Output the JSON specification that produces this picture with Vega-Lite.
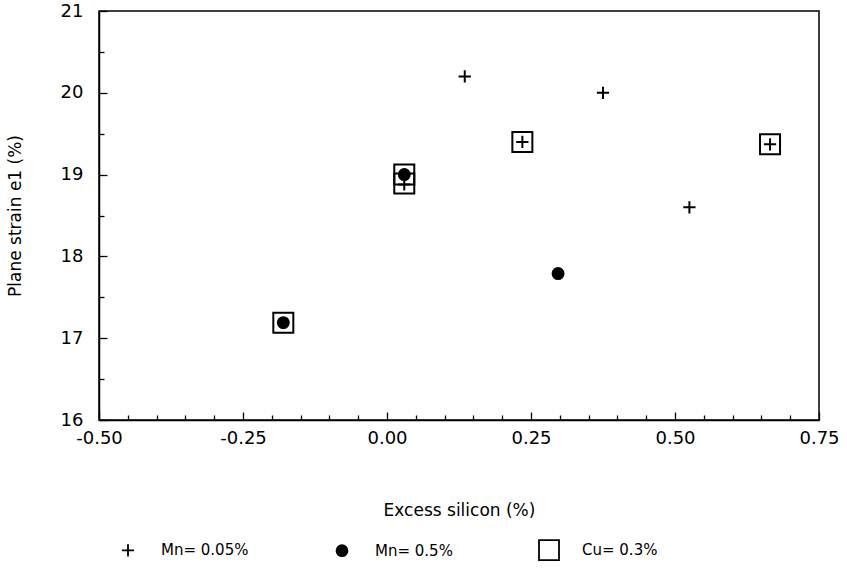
{
  "$schema": "https://vega.github.io/schema/vega-lite/v6.json",
  "width": 720,
  "height": 409,
  "autosize": {"type": "none"},
  "padding": {"left": 99, "top": 11, "right": 28, "bottom": 148},
  "background": "white",
  "config": {
    "font": "DejaVu Sans",
    "view": {"stroke": "black", "strokeWidth": 1.5},
    "axis": {
      "grid": false,
      "domainColor": "black",
      "domainWidth": 1.5,
      "tickColor": "black",
      "tickWidth": 1.3,
      "labelColor": "black",
      "titleColor": "black",
      "labelFont": "DejaVu Sans",
      "titleFont": "DejaVu Sans",
      "labelFontSize": 18,
      "titleFontSize": 17,
      "titleFontWeight": "normal",
      "labelFlush": false,
      "labelOverlap": false
    }
  },
  "data": {
    "values": [
      {"series": "Cu= 0.3%", "si": 0.235, "e1": 19.4},
      {"series": "Cu= 0.3%", "si": 0.665, "e1": 19.37},
      {"series": "Cu= 0.3%", "si": 0.03, "e1": 19.0},
      {"series": "Cu= 0.3%", "si": 0.03, "e1": 18.89},
      {"series": "Cu= 0.3%", "si": -0.18, "e1": 17.19},
      {"series": "Mn= 0.05%", "si": 0.135, "e1": 20.2},
      {"series": "Mn= 0.05%", "si": 0.375, "e1": 20.0},
      {"series": "Mn= 0.05%", "si": 0.235, "e1": 19.4},
      {"series": "Mn= 0.05%", "si": 0.665, "e1": 19.37},
      {"series": "Mn= 0.05%", "si": 0.525, "e1": 18.6},
      {"series": "Mn= 0.05%", "si": 0.03, "e1": 18.88},
      {"series": "Mn= 0.5%", "si": 0.03, "e1": 19.0},
      {"series": "Mn= 0.5%", "si": 0.297, "e1": 17.79},
      {"series": "Mn= 0.5%", "si": -0.18, "e1": 17.19}
    ]
  },
  "layer": [
    {
      "mark": {"type": "point", "stroke": "black", "strokeWidth": 2, "opacity": 1},
      "encoding": {
        "x": {
          "field": "si", "type": "quantitative",
          "scale": {"domain": [-0.5, 0.75], "nice": false, "zero": false},
          "axis": {
            "orient": "bottom",
            "values": [-0.5, -0.25, 0, 0.25, 0.5, 0.75],
            "labelExpr": "replace(format(datum.value, '.2f'), '\u2212', '-')",
            "ticks": false,
            "labelPadding": 9,
            "title": "Excess silicon (%)",
            "titlePadding": 55
          }
        },
        "y": {
          "field": "e1", "type": "quantitative",
          "scale": {"domain": [16, 21], "nice": false, "zero": false},
          "axis": {
            "orient": "left",
            "values": [16, 17, 18, 19, 20, 21],
            "format": "d",
            "ticks": false,
            "labelPadding": 16,
            "title": "Plane strain e1 (%)",
            "titlePadding": 36
          }
        },
        "shape": {
          "field": "series", "type": "nominal",
          "scale": {"domain": ["Mn= 0.05%", "Mn= 0.5%", "Cu= 0.3%"], "range": ["M-1,0H1M0,-1V1", "circle", "square"]},
          "legend": {
            "orient": "none",
            "legendX": 18,
            "legendY": 528,
            "direction": "horizontal",
            "columns": 3,
            "columnPadding": 82,
            "labelOffset": 22,
            "labelFontSize": 15,
            "labelFont": "DejaVu Sans",
            "labelColor": "black",
            "symbolStrokeColor": "black",
            "symbolStrokeWidth": 1.8,
            "padding": 0,
            "title": null
          }
        },
        "size": {
          "field": "series", "type": "nominal",
          "scale": {"type": "ordinal", "domain": ["Mn= 0.05%", "Mn= 0.5%", "Cu= 0.3%"], "range": [150, 120, 400]}
        },
        "fill": {
          "field": "series", "type": "nominal",
          "scale": {"domain": ["Mn= 0.05%", "Mn= 0.5%", "Cu= 0.3%"], "range": ["transparent", "black", "transparent"]}
        }
      }
    },
    {
      "mark": {"type": "point", "opacity": 0},
      "encoding": {
        "x": {
          "field": "si", "type": "quantitative",
          "scale": {"domain": [-0.5, 0.75], "nice": false, "zero": false},
          "axis": {
            "orient": "top",
            "offset": -409,
            "values": [-0.5, -0.25, 0, 0.25, 0.5, 0.75],
            "tickSize": 8,
            "labels": false,
            "domain": false,
            "title": null
          }
        },
        "y": {
          "field": "e1", "type": "quantitative",
          "scale": {"domain": [16, 21], "nice": false, "zero": false},
          "axis": {
            "orient": "right",
            "offset": -720,
            "values": [16, 17, 18, 19, 20, 21],
            "tickSize": 8,
            "labels": false,
            "domain": false,
            "title": null
          }
        }
      }
    },
    {
      "mark": {"type": "point", "opacity": 0},
      "encoding": {
        "x": {
          "field": "si", "type": "quantitative",
          "scale": {"domain": [-0.5, 0.75], "nice": false, "zero": false},
          "axis": {
            "orient": "top",
            "offset": -409,
            "values": [-0.45, -0.4, -0.35, -0.3, -0.2, -0.15, -0.1, -0.05, 0.05, 0.1, 0.15, 0.2, 0.3, 0.35, 0.4, 0.45, 0.55, 0.6, 0.65, 0.7],
            "tickSize": 5,
            "labels": false,
            "domain": false,
            "title": null
          }
        },
        "y": {
          "field": "e1", "type": "quantitative",
          "scale": {"domain": [16, 21], "nice": false, "zero": false},
          "axis": {
            "orient": "right",
            "offset": -720,
            "values": [16.5, 17.5, 18.5, 19.5, 20.5],
            "tickSize": 5,
            "labels": false,
            "domain": false,
            "title": null
          }
        }
      }
    }
  ],
  "resolve": {"axis": {"x": "independent", "y": "independent"}}
}
